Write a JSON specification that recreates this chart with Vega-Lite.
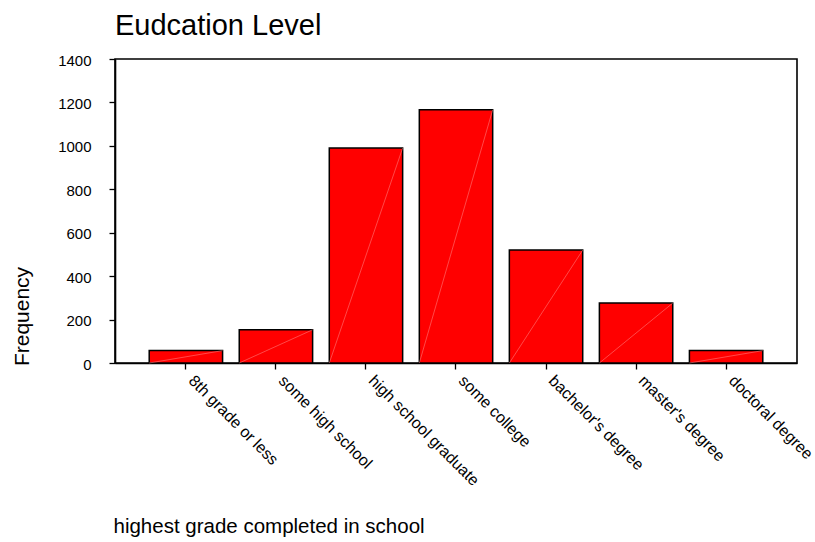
{
  "$schema": "https://vega.github.io/schema/vega-lite/v6.json",
  "autosize": {"type": "none"},
  "padding": {"left": 115, "top": 59, "right": 18, "bottom": 179},
  "width": 682,
  "height": 304,
  "background": "white",
  "title": {
    "text": "Eudcation Level",
    "anchor": "start",
    "frame": "group",
    "font": "Liberation Sans",
    "fontSize": 29,
    "fontWeight": "normal",
    "color": "#000000",
    "baseline": "alphabetic",
    "offset": -11
  },
  "config": {
    "view": {"stroke": "#000000", "strokeWidth": 1.6},
    "axis": {
      "labelFont": "Liberation Sans",
      "titleFont": "Liberation Sans",
      "labelColor": "#000000",
      "titleColor": "#000000",
      "domainColor": "#000000",
      "tickColor": "#000000",
      "domainWidth": 1.6,
      "tickWidth": 1.3,
      "tickSize": 6,
      "grid": false,
      "titleFontWeight": "normal"
    }
  },
  "data": {
    "values": [
      {"level": "8th grade or less", "count": 57},
      {"level": "some high school", "count": 153},
      {"level": "high school graduate", "count": 990},
      {"level": "some college", "count": 1166},
      {"level": "bachelor's degree", "count": 520},
      {"level": "master's degree", "count": 276},
      {"level": "doctoral degree", "count": 57}
    ]
  },
  "layer": [
    {
      "mark": {"type": "bar", "fill": "#ff0000", "stroke": "#000000", "strokeWidth": 1.5},
      "encoding": {
        "x": {
          "field": "level",
          "type": "nominal",
          "sort": null,
          "scale": {"paddingInner": 0.185, "paddingOuter": 0.38},
          "axis": {
            "title": "highest grade completed in school",
            "titleFontSize": 20.5,
            "titleX": -2,
            "titleY": 169,
            "titleAlign": "left",
            "titleBaseline": "alphabetic",
            "labelAngle": 45,
            "labelAlign": "left",
            "labelBaseline": "top",
            "labelFontSize": 16,
            "labelPadding": 3,
            "labelOffset": 11,
            "labelLimit": 300
          }
        },
        "y": {
          "field": "count",
          "type": "quantitative",
          "scale": {"domain": [0, 1400], "nice": false},
          "axis": {
            "title": "Frequency",
            "titleFontSize": 21,
            "titleX": -93,
            "titleY": 257,
            "titleAlign": "center",
            "titleBaseline": "middle",
            "titleAngle": -90,
            "values": [0, 200, 400, 600, 800, 1000, 1200, 1400],
            "format": "d",
            "labelFontSize": 15,
            "labelPadding": 18,
            "labelBaseline": "middle",
            "labelOffset": 1
          }
        }
      }
    },
    {
      "mark": {"type": "rule", "stroke": "#ff9090", "strokeWidth": 0.5},
      "encoding": {
        "x": {"field": "level", "type": "nominal", "sort": null, "bandPosition": 1},
        "x2": {"field": "level", "bandPosition": 0},
        "y": {"field": "count", "type": "quantitative"},
        "y2": {"datum": 0}
      }
    }
  ]
}
